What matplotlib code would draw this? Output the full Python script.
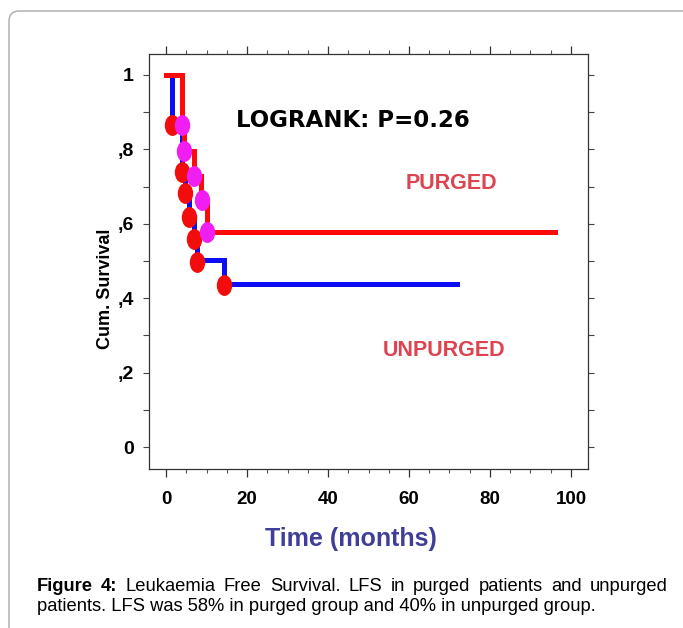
"""Kaplan-Meier style leukaemia free survival plot, purged vs unpurged."""
import matplotlib
matplotlib.use("Agg")
import matplotlib.pyplot as plt
from matplotlib.markers import MarkerStyle
from matplotlib.transforms import Affine2D
from matplotlib.patches import FancyBboxPatch
from matplotlib.ticker import FixedLocator, MultipleLocator

# purged group: red line, magenta dots
purged_t = [0, 3.9, 4.5, 6.8, 8.7, 10.2, 96]
purged_s = [1.0, 0.866, 0.796, 0.727, 0.664, 0.579, 0.579]
purged_dot_t = [4.0, 4.5, 7.0, 8.8, 10.0]
purged_dot_s = [0.866, 0.796, 0.727, 0.664, 0.577]

# unpurged group: blue line, red dots
unpurged_t = [0, 1.4, 4.0, 4.7, 5.8, 7.0, 7.6, 14.2, 71.9]
unpurged_s = [1.0, 0.866, 0.740, 0.682, 0.617, 0.558, 0.503, 0.438, 0.438]
unpurged_dot_t = [1.4, 4.0, 4.7, 5.8, 7.0, 7.6, 14.2]
unpurged_dot_s = [0.866, 0.740, 0.682, 0.617, 0.558, 0.498, 0.436]

x_ticks = [0, 20, 40, 60, 80, 100]
y_ticks = [0, 0.2, 0.4, 0.6, 0.8, 1.0]
y_tick_labels = ["0", ",2", ",4", ",6", ",8", "1"]

caption_1 = ["Figure", "4:", "Leukaemia", "Free", "Survival.", "LFS", "in",
             "purged", "patients", "and", "unpurged"]
caption_2 = "patients. LFS was 58% in purged group and 40% in unpurged group."

W, H = 683, 628
plt.rcParams['font.family'] = ['Liberation Sans', 'DejaVu Sans']


def fx(px):
    return px / W


def fy(py):
    return 1 - py / H


fig = plt.figure(figsize=(W / 100, H / 100), dpi=100)

# rounded outer frame
frame = FancyBboxPatch((0.09, -0.8), 7.2, 0.8 + (H - 11) / 100,
                       boxstyle="round,pad=0,rounding_size=0.1",
                       transform=fig.dpi_scale_trans, facecolor='none',
                       edgecolor='#aaaaaa', linewidth=1.0, zorder=-1)
fig.patches.append(frame)

ax = fig.add_axes([149 / W, fy(469), 439 / W, 415 / H])
ax.set_xlim(-4.2, 104.2)
ax.set_ylim(-0.059, 1.056)

lw = 3.6
ax.step(unpurged_t, unpurged_s, where='post', color='#0c0cf5', lw=lw,
        solid_joinstyle='miter', zorder=2)
ax.step(purged_t, purged_s, where='post', color='#ff0808', lw=lw,
        solid_joinstyle='miter', zorder=3)
oval = MarkerStyle('o', transform=Affine2D().scale(0.72, 1.0))
ax.plot(unpurged_dot_t, unpurged_dot_s, ls='none', marker=oval, ms=14,
        color='#f20c0c', zorder=4)
ax.plot(purged_dot_t, purged_dot_s, ls='none', marker=oval, ms=14,
        color='#f01ef0', zorder=5)

for sp in ax.spines.values():
    sp.set_color('#333333')
    sp.set_linewidth(0.9)

ax.xaxis.set_major_locator(FixedLocator(x_ticks))
ax.xaxis.set_minor_locator(MultipleLocator(5))
ax.yaxis.set_major_locator(FixedLocator(y_ticks))
ax.yaxis.set_minor_locator(MultipleLocator(0.1))
ax.set_xticklabels([str(v) for v in x_ticks], fontweight='bold', fontsize=13.5)
ax.set_yticklabels(y_tick_labels, fontweight='bold', fontsize=14)
ax.tick_params(axis='x', which='major', direction='out', length=6, width=0.9,
               top=True, bottom=True, pad=9.5, colors='#333333', labelcolor='black')
ax.tick_params(axis='x', which='minor', direction='out', length=3, width=0.8,
               top=True, bottom=True, colors='#555555')
ax.tick_params(axis='y', which='both', direction='out', length=4.5, width=0.8,
               left=True, right=True, pad=6.5, colors='#444444', labelcolor='black')

fig.text(fx(353), fy(127), "LOGRANK: P=0.26", family='DejaVu Sans',
         fontweight='bold', fontsize=16.5, ha='center', va='baseline')
fig.text(fx(451), fy(189), "PURGED", fontweight='bold', fontsize=15.5,
         color='#dc4450', ha='center', va='baseline')
fig.text(fx(444.5), fy(356), "UNPURGED", fontweight='bold', fontsize=15.5,
         color='#dc4450', ha='center', va='baseline')
fig.text(fx(105), fy(289), "Cum. Survival", fontweight='bold', fontsize=13,
         rotation=90, ha='center', va='center')
fig.text(fx(351), fy(546), "Time (months)", fontweight='bold', fontsize=18,
         color='#3f3f99', ha='center', va='baseline')

# justified first caption line
cap_size = 13.2
renderer = fig.canvas.get_renderer()
words = []
for i, w in enumerate(caption_1):
    words.append(fig.text(0, fy(591), w, fontsize=cap_size, va='baseline',
                          fontweight='bold' if i < 2 else 'normal'))
widths = [t.get_window_extent(renderer).width for t in words]
gap = (668 - 36.7 - sum(widths)) / (len(words) - 1)
x = 36.7
for t, wd in zip(words, widths):
    t.set_x(fx(x))
    x += wd + gap
fig.text(fx(36.7), fy(611), caption_2, fontsize=cap_size, va='baseline')

fig.savefig("out.png", dpi=100)
